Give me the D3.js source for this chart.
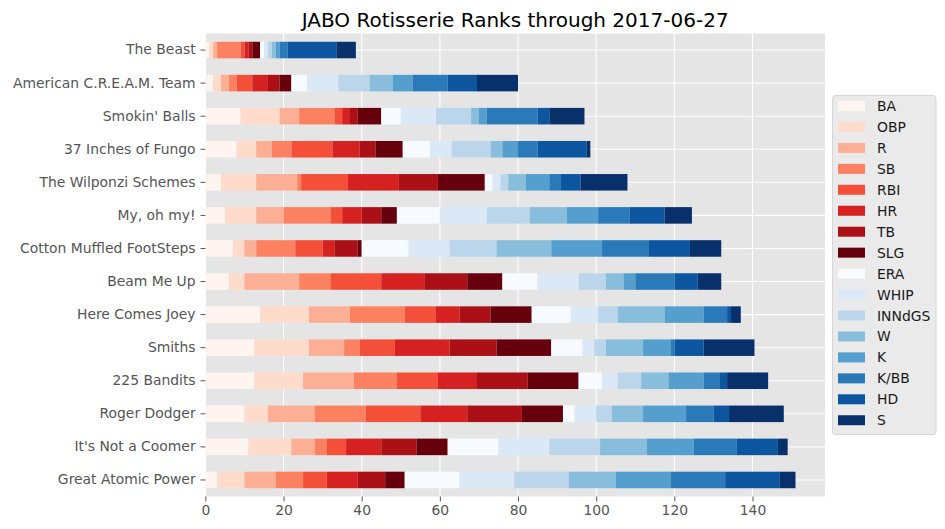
<!DOCTYPE html>
<html>
<head>
<meta charset="utf-8">
<script src="https://cdn.jsdelivr.net/npm/d3@7"></script>
<style>
  html, body { margin: 0; padding: 0; background: #ffffff; }
  svg { display: block; font-family: "DejaVu Sans", sans-serif; }
</style>
</head>
<body>
<svg id="chart" width="945" height="529"></svg>
<script>
// ---- data ----
const title = "JABO Rotisserie Ranks through 2017-06-27";
const teams = ["The Beast", "American C.R.E.A.M. Team", "Smokin' Balls", "37 Inches of Fungo",
  "The Wilponzi Schemes", "My, oh my!", "Cotton Muffled FootSteps", "Beam Me Up",
  "Here Comes Joey", "Smiths", "225 Bandits", "Roger Dodger", "It's Not a Coomer", "Great Atomic Power"];
const categories = ["BA", "OBP", "R", "SB", "RBI", "HR", "TB", "SLG",
  "ERA", "WHIP", "INNdGS", "W", "K", "K/BB", "HD", "S"];
const xTicks = [0, 20, 40, 60, 80, 100, 120, 140];

// values per category, in team order (top to bottom)
const BA     = [1, 2, 9, 8, 4, 5, 7, 6, 14, 12.5, 12.5, 10, 11, 3];
const OBP    = [1, 2, 10, 5, 9, 8, 3, 4, 12.5, 14, 12.5, 6, 11, 7];
const R      = [1, 2, 5, 4, 10.5, 7, 3, 14, 10.5, 9, 13, 12, 6, 8];
const SB     = [6, 2, 9, 5, 1, 12, 10, 8, 14, 4, 11, 13, 3, 7];
const RBI    = [1, 4, 2, 10.5, 12, 3, 7, 13, 8, 9, 10.5, 14, 5, 6];
const HR     = [1, 4, 2, 7, 13, 5, 3, 11, 6, 14, 10, 12, 9, 8];
const TB     = [1, 3, 2, 4, 10, 5, 6, 11, 8, 12, 13, 14, 9, 7];
const SLG    = [2, 3, 6, 7, 12, 4, 1, 9, 10.5, 14, 13, 10.5, 8, 5];
const ERA    = [1, 4, 5, 7, 2, 11, 12, 9, 10, 8, 6, 3, 13, 14];
const WHIP   = [1, 8, 9, 5.5, 2, 12, 10.5, 10.5, 7, 3, 4, 5.5, 13, 14];
const INNdGS = [1, 8, 9, 10, 2, 11, 12, 7, 5, 3, 6, 4, 13, 14];
const W      = [1, 6, 2, 3, 4.5, 9.5, 14, 4.5, 12, 9.5, 7, 8, 12, 12];
const K      = [1, 5, 2, 4, 6, 8, 13, 3, 10, 7, 9, 11, 12, 14];
const KBB    = [2, 9, 13, 5, 3, 8, 12, 10, 6, 1, 4, 7, 11, 14];
const HD     = [12.5, 7.5, 3, 12.5, 5, 9, 10.5, 6, 1, 7.5, 2, 4, 10.5, 14];
const S      = [5, 10.5, 9, 1, 12, 7, 8, 6, 2.5, 13, 10.5, 14, 2.5, 4];

const seriesValues = [BA, OBP, R, SB, RBI, HR, TB, SLG, ERA, WHIP, INNdGS, W, K, KBB, HD, S];

// colours (matplotlib Reds / Blues sampled at 8 steps)
const colors = ["#fff5f0", "#fedbcb", "#fcaf94", "#fc8161", "#f44f39", "#d52221", "#aa1016", "#67000d",
  "#f7fbff", "#dbe9f6", "#bbd6eb", "#88bedc", "#549fcd", "#2a7ab9", "#0c56a0", "#08306b"];

// ---- table ----
const table = teams.map((t, i) => {
  const row = { team: t };
  categories.forEach((c, j) => { row[c] = seriesValues[j][i]; });
  return row;
});
const stacked = d3.stack().keys(categories)(table);
const maxTotal = d3.max(table, d => d3.sum(categories, c => d[c]));

// ---- layout ----
const svg = d3.select("#chart");
const plot = { left: 205.4, right: 825, top: 33.5, bottom: 496.5 };

const x = d3.scaleLinear().domain([0, maxTotal * 1.05]).range([plot.left, plot.right]);
const y = d3.scaleBand().domain(teams).range([plot.top, plot.bottom]).paddingInner(0.5).paddingOuter(0.25);

// background
svg.append("rect")
  .attr("x", plot.left).attr("y", plot.top)
  .attr("width", plot.right - plot.left).attr("height", plot.bottom - plot.top)
  .attr("fill", "#e5e5e5");

// grid
const grid = svg.append("g");
grid.selectAll("line.vx").data(xTicks).enter().append("line")
  .attr("x1", d => x(d)).attr("x2", d => x(d))
  .attr("y1", plot.top).attr("y2", plot.bottom)
  .attr("stroke", "#ffffff").attr("stroke-width", 1.1);
grid.selectAll("line.hy").data(teams).enter().append("line")
  .attr("x1", plot.left).attr("x2", plot.right)
  .attr("y1", d => y(d) + y.bandwidth() / 2).attr("y2", d => y(d) + y.bandwidth() / 2)
  .attr("stroke", "#ffffff").attr("stroke-width", 1.1);

// bars
const layers = svg.append("g").selectAll("g").data(stacked).enter().append("g")
  .attr("fill", (d, i) => colors[i]);
layers.selectAll("rect").data(d => d).enter().append("rect")
  .attr("x", d => x(d[0]))
  .attr("width", d => x(d[1]) - x(d[0]))
  .attr("y", d => y(d.data.team))
  .attr("height", y.bandwidth());

// x axis
const xAxis = d3.axisBottom(x).tickValues(xTicks).tickSize(4.9).tickPadding(3.5).tickFormat(d3.format("d"));
const gx = svg.append("g").attr("transform", `translate(0,${plot.bottom})`).call(xAxis);
gx.select(".domain").remove();
gx.selectAll(".tick line").attr("stroke", "#555555").attr("stroke-width", 1);
gx.selectAll(".tick text").attr("fill", "#555555").attr("font-size", "13.9px")
  .attr("font-family", "DejaVu Sans");

// y axis
const yAxis = d3.axisLeft(y).tickSize(4.9).tickPadding(4.9);
const gy = svg.append("g").attr("transform", `translate(${plot.left},0)`).call(yAxis);
gy.select(".domain").remove();
gy.selectAll(".tick line").attr("stroke", "#555555").attr("stroke-width", 1);
gy.selectAll(".tick text").attr("fill", "#555555").attr("font-size", "13.9px")
  .attr("font-family", "DejaVu Sans");

// title
svg.append("text")
  .attr("x", (plot.left + plot.right) / 2).attr("y", 26.5)
  .attr("text-anchor", "middle")
  .attr("font-size", "20px").attr("fill", "#000000")
  .text(title);

// legend
const lg = { x: 832, y: 95, w: 103.5, h: 339, first: 106, step: 20.95 };
const legend = svg.append("g");
legend.append("rect")
  .attr("x", lg.x + 0.5).attr("y", lg.y + 0.5)
  .attr("width", lg.w).attr("height", lg.h)
  .attr("rx", 3).attr("ry", 3)
  .attr("fill", "#eaeaea").attr("stroke", "#d6d6d6").attr("stroke-width", 1);
const items = legend.selectAll("g.item").data(categories).enter().append("g")
  .attr("transform", (d, i) => `translate(0,${lg.first + i * lg.step})`);
items.append("rect")
  .attr("x", 838).attr("y", -5).attr("width", 27).attr("height", 10)
  .attr("fill", (d, i) => colors[i]);
items.append("text")
  .attr("x", 877).attr("y", 5)
  .attr("font-size", "13.9px").attr("fill", "#1a1a1a")
  .text(d => d);
</script>
</body>
</html>
